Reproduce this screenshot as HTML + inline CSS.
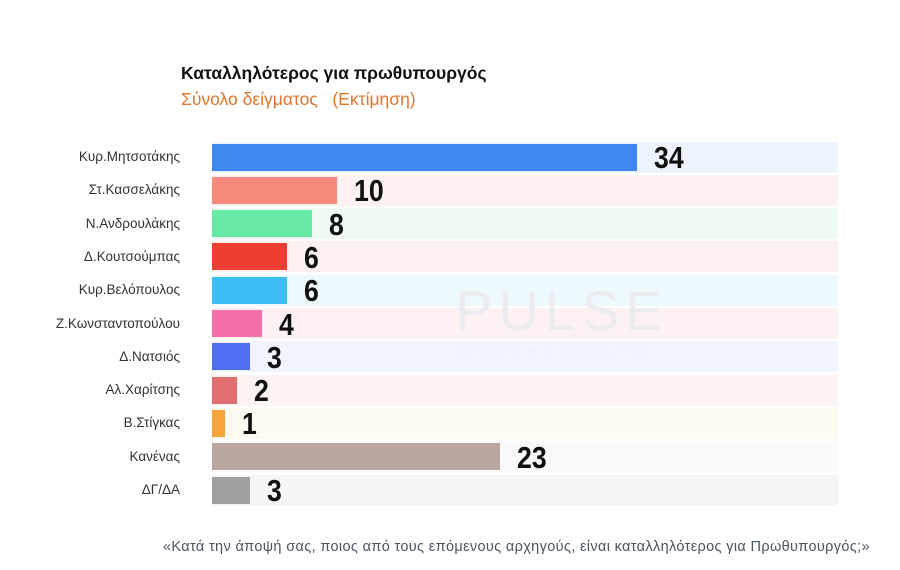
<!DOCTYPE html>
<html><head><meta charset="utf-8"><style>
body{margin:0;width:900px;height:570px;background:#fff;position:relative;overflow:hidden;font-family:"Liberation Sans",sans-serif}
.t{position:absolute;left:181px;top:63px;font-weight:bold;font-size:17.5px;color:#111}
.s{position:absolute;left:181px;top:89px;font-size:17.5px;color:#e0762b}
.band{position:absolute;left:212px;width:626px;height:31px}
.bar{position:absolute;left:212px;height:27px}
.lab{position:absolute;right:720px;font-size:13.5px;color:#333;white-space:nowrap}
.v{position:absolute;font-weight:bold;font-size:31px;color:#111;line-height:30px;transform:scaleX(0.86);transform-origin:left center}
.f{position:absolute;left:163px;top:539px;font-size:14.5px;color:#4a5560;white-space:nowrap;letter-spacing:0.35px}
.wm{position:absolute;left:455px;top:278px;font-size:56px;color:#ececf0;letter-spacing:6px;font-weight:300}
.wm2{position:absolute;left:458px;top:347px;font-size:10px;color:#efeff2;letter-spacing:3px}
</style></head><body>
<div class="t">Καταλληλότερος για πρωθυπουργός</div>
<div class="s">Σύνολο δείγματος &nbsp;&nbsp;(Εκτίμηση)</div>
<div id="c"></div>
<div class="wm">PULSE</div>
<div class="wm2">RESEARCH &amp; CONSULTING</div>
<div class="f">«Κατά την άποψή σας, ποιος από τους επόμενους αρχηγούς, είναι καταλληλότερος για Πρωθυπουργός;»</div>
<script>
var d=[["Κυρ.Μητσοτάκης",34,"#3f86f0","#eef4fd"],["Στ.Κασσελάκης",10,"#f58a7d","#fdf2f0"],["Ν.Ανδρουλάκης",8,"#66e8a6","#effaf3"],["Δ.Κουτσούμπας",6,"#ee3d33","#fdf1ef"],["Κυρ.Βελόπουλος",6,"#3dbff5","#eef9fe"],["Ζ.Κωνσταντοπούλου",4,"#f56fa8","#fdf1f4"],["Δ.Νατσιός",3,"#4f6ef0","#f1f3fd"],["Αλ.Χαρίτσης",2,"#e07070","#fcf3f2"],["Β.Στίγκας",1,"#f5a53a","#fffaf1"],["Κανένας",23,"#b9a6a0","#faf8f8"],["ΔΓ/ΔΑ",3,"#a0a0a0","#f5f5f5"]];
var h="";
d.forEach(function(r,i){var c=157+i*33.3;var w=r[1]*12.5;
h+='<div class="band" style="top:'+(c-15.5)+'px;background:'+r[3]+'"></div>';
h+='<div class="bar" style="top:'+(c-13.5)+'px;width:'+w+'px;background:'+r[2]+'"></div>';
h+='<div class="lab" style="top:'+(c-8)+'px">'+r[0]+'</div>';
h+='<div class="v" style="top:'+(c-14)+'px;left:'+(212+w+17)+'px">'+r[1]+'</div>';});
document.getElementById("c").innerHTML=h;
</script>
</body></html>
